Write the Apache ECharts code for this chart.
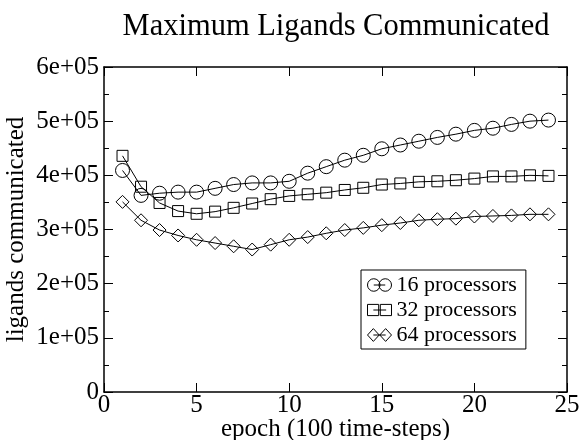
<!DOCTYPE html>
<html>
<head>
<meta charset="utf-8">
<script src="https://cdn.jsdelivr.net/npm/echarts@6/dist/echarts.min.js"></script>
<style>
  html, body { margin: 0; padding: 0; background: #fff; }
  #main { width: 582px; height: 440px; }
</style>
</head>
<body>
<div id="main"></div>
<script>
// epochs (x axis, units of 100 time-steps)
const epochs = [1, 2, 3, 4, 5, 6, 7, 8, 9, 10, 11, 12, 13, 14, 15, 16, 17, 18, 19, 20, 21, 22, 23, 24]

// max ligands communicated per epoch
const p16 = [409000, 363000, 367000, 369000, 369000, 376000, 383000, 386000, 386000, 389000, 404000, 416000,
  428000, 437000, 449000, 456000, 463000, 470000, 476000, 483000, 487000, 494000, 500000, 502000]
const p32 = [436000, 379000, 349000, 334000, 329000, 333000, 340000, 348000, 356000, 362000, 365000, 368000,
  373000, 377000, 383000, 385000, 388000, 389000, 391000, 394000, 398000, 398000, 400000, 399000]
const p64 = [351000, 317000, 299000, 289000, 281000, 275000, 269000, 263000, 272000, 281000, 286000, 293000,
  299000, 303000, 308000, 312000, 317000, 319000, 320000, 324000, 325000, 326000, 328000, 328000]

const seriesNames = ['16 processors', '32 processors', '64 processors']
const yTickLabels = ['0', '1e+05', '2e+05', '3e+05', '4e+05', '5e+05', '6e+05']

const FONT = "'Liberation Serif', 'DejaVu Serif', serif"

// legend icons: two hollow markers joined by a line
const ICON_CIRCLES = 'path://M0.5,6.5A6,6,0,1,1,12.5,6.5A6,6,0,1,1,0.5,6.5ZM11.5,6.5A6,6,0,1,1,23.5,6.5A6,6,0,1,1,11.5,6.5ZM6.5,6.5L17.5,6.5'
const ICON_SQUARES = 'path://M0.5,1L11,1L11,11.5L0.5,11.5ZM12.5,1L23,1L23,11.5L12.5,11.5ZM6,6.25L18,6.25'
const ICON_DIAMONDS = 'path://M0.5,6.5L6,0.5L11.5,6.5L6,12.5ZM12,6.5L17.5,0.5L23,6.5L17.5,12.5ZM6,6.5L17.5,6.5'

function toPairs(vals) {
  return epochs.map((e, i) => [e, vals[i]])
}

function makeSeries(name, vals, symbol, size) {
  return {
    name: name,
    type: 'line',
    data: toPairs(vals),
    symbol: symbol,
    symbolSize: size,
    showAllSymbol: true,
    lineStyle: { color: '#000', width: 1 },
    itemStyle: { color: 'transparent', borderColor: '#000', borderWidth: 1 },
    emphasis: { disabled: true },
    animation: false,
    z: 3,
  }
}

const axisLine = { show: true, onZero: false, lineStyle: { color: '#000', width: 1.5 } }
const tick = { show: true, inside: true, length: 9, lineStyle: { color: '#000' } }
const minor = { show: true, splitNumber: 2, length: 5, lineStyle: { color: '#000' } }

const chart = echarts.init(document.getElementById('main'))

const option = {
  backgroundColor: '#fff',
  animation: false,
  title: {
    text: 'Maximum Ligands Communicated',
    left: 336,
    textAlign: 'center',
    top: 11,
    padding: 0,
    textStyle: { fontFamily: FONT, fontSize: 30.5, fontWeight: 'normal', color: '#000' },
  },
  legend: {
    orient: 'vertical',
    left: 361,
    top: 270,
    padding: [4, 9, 3, 6],
    itemGap: 3,
    itemWidth: 24,
    itemHeight: 13,
    itemTextGap: 4,
    borderColor: '#000',
    borderWidth: 1,
    backgroundColor: '#fff',
    selectedMode: false,
    textStyle: { fontFamily: FONT, fontSize: 22, color: '#000' },
    data: [
      { name: seriesNames[0], icon: ICON_CIRCLES, itemStyle: { color: '#fff', borderColor: '#000', borderWidth: 1 } },
      { name: seriesNames[1], icon: ICON_SQUARES, itemStyle: { color: '#fff', borderColor: '#000', borderWidth: 1 } },
      { name: seriesNames[2], icon: ICON_DIAMONDS, itemStyle: { color: '#fff', borderColor: '#000', borderWidth: 1 } },
    ],
  },
  grid: { left: 104, right: 15, top: 67, bottom: 48, outerBoundsMode: 'none', containLabel: false },
  xAxis: [
    {
      type: 'value',
      min: 0,
      max: 25,
      interval: 5,
      position: 'bottom',
      name: 'epoch (100 time-steps)',
      nameLocation: 'middle',
      nameGap: 25,
      nameMoveOverlap: false,
      nameTextStyle: { fontFamily: FONT, fontSize: 25, color: '#000' },
      axisLine: axisLine,
      axisTick: tick,
      axisLabel: { fontFamily: FONT, fontSize: 25, color: '#000', margin: 1 },
      splitLine: { show: false },
    },
    {
      type: 'value',
      min: 0,
      max: 25,
      interval: 5,
      position: 'top',
      axisLine: axisLine,
      axisTick: tick,
      axisLabel: { show: false },
      splitLine: { show: false },
    },
  ],
  yAxis: [
    {
      type: 'value',
      min: 0,
      max: 600000,
      interval: 100000,
      position: 'left',
      name: 'ligands communicated',
      nameLocation: 'middle',
      nameGap: 75,
      nameMoveOverlap: false,
      nameTextStyle: { fontFamily: FONT, fontSize: 25, color: '#000' },
      axisLine: axisLine,
      axisTick: tick,
      minorTick: minor,
      axisLabel: {
        fontFamily: FONT, fontSize: 25, color: '#000', margin: 5,
        formatter: (v) => yTickLabels[Math.round(v / 100000)],
      },
      splitLine: { show: false },
    },
    {
      type: 'value',
      min: 0,
      max: 600000,
      interval: 100000,
      position: 'right',
      axisLine: axisLine,
      axisTick: tick,
      minorTick: minor,
      axisLabel: { show: false },
      splitLine: { show: false },
    },
  ],
  series: [
    makeSeries(seriesNames[0], p16, 'circle', 14),
    makeSeries(seriesNames[1], p32, 'rect', 11),
    makeSeries(seriesNames[2], p64, 'diamond', [13, 13]),
  ],
}

chart.setOption(option)
</script>
</body>
</html>
